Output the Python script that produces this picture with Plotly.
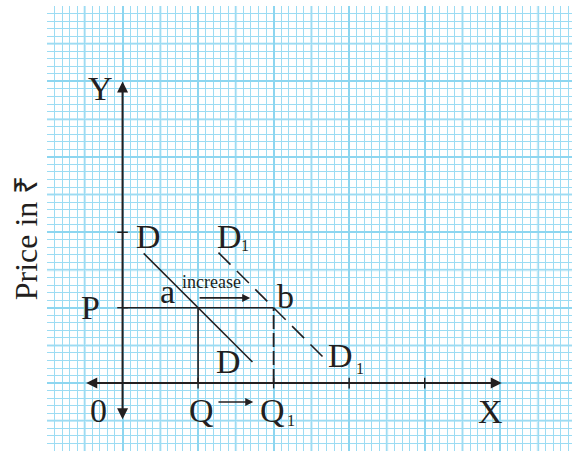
import plotly.graph_objects as go

# demand curves (price-quantity units, one unit = one big grid square)
d_x = [0.28, 1.72]
d_y = [1.72, 0.28]
d1_x = [1.27, 2.72]
d1_y = [1.73, 0.28]

# equilibrium values
price_p = 1
qty_q = 1
qty_q1 = 2

x_ticks = [1, 2, 3, 4]
y_ticks = [1, 2]

INK = "#231f20"
SERIF = "Liberation Serif, Times New Roman, serif"

fig = go.Figure()


def add_line(xs, ys, dash="solid", width=1.6):
    fig.add_trace(go.Scatter(
        x=xs, y=ys, mode="lines", hoverinfo="skip", showlegend=False,
        line=dict(color=INK, width=width, dash=dash)
    ))


# D and D1
add_line(d_x, d_y)
add_line(d1_x, d1_y, dash="17px,9px")

# price line P -> b, verticals at Q (solid) and Q1 (dashed)
add_line([0, qty_q1], [price_p, price_p])
add_line([qty_q, qty_q], [0, price_p])
add_line([qty_q1, qty_q1], [0, price_p], dash="14px,4px", width=1.8)

# small ticks on axes
for t in x_ticks:
    add_line([t, t], [-0.07, 0.07], width=1.4)
for t in y_ticks:
    add_line([-0.07, 0.07], [t, t], width=1.4)

# half-unit grid lines (lighter, wider)
for k in range(-1, 6):
    fig.add_shape(type="line", xref="x", yref="paper", x0=k + 0.5, x1=k + 0.5,
                  y0=0, y1=1, line=dict(color="#c4e9f7", width=2.5), layer="below")
for k in range(-1, 5):
    fig.add_shape(type="line", xref="paper", yref="y", y0=k + 0.5, y1=k + 0.5,
                  x0=0, x1=1, line=dict(color="#c4e9f7", width=2.5), layer="below")

# axes with arrowheads
axis_arrow = dict(xref="x", yref="y", axref="x", ayref="y", text="", showarrow=True,
                  arrowhead=2, arrowsize=1.1, arrowwidth=2, arrowcolor=INK,
                  arrowside="end+start", standoff=0, startstandoff=0, startarrowhead=2,
                  startarrowsize=1.1)
fig.add_annotation(x=5.02, y=0, ax=-0.5, ay=0, **axis_arrow)
fig.add_annotation(x=0, y=4.0, ax=0, ay=-0.5, **axis_arrow)

small_arrow = dict(xref="x", yref="y", axref="x", ayref="y", text="", showarrow=True,
                   arrowhead=2, arrowsize=1, arrowwidth=1.6, arrowcolor=INK, standoff=0)
fig.add_annotation(x=1.69, y=1.13, ax=1.0, ay=1.13, **small_arrow)
fig.add_annotation(x=1.73, y=-0.25, ax=1.25, ay=-0.25, **small_arrow)

labels = [
    ("Y", -0.29, 3.91, 34),
    ("X", 4.87, -0.38, 34),
    ("0", -0.32, -0.36, 34),
    ("Q", 1.04, -0.36, 34),
    ("Q", 1.98, -0.36, 34),
    ("1", 2.23, -0.50, 16),
    ("P", -0.43, 1.0, 34),
    ("D", 0.34, 1.94, 34),
    ("D", 1.42, 1.94, 34),
    ("1", 1.62, 1.82, 16),
    ("a", 0.59, 1.22, 34),
    ("b", 2.16, 1.15, 34),
    ("D", 1.40, 0.29, 34),
    ("D", 2.89, 0.37, 34),
    ("1", 3.14, 0.20, 16),
    ("increase", 1.18, 1.34, 18),
]
for txt, lx, ly, size in labels:
    fig.add_annotation(x=lx, y=ly, xref="x", yref="y", text=txt, showarrow=False,
                       font=dict(family=SERIF, size=size, color=INK))

# y title sits left of the grid, so place it in paper coords
fig.add_annotation(x=-0.04, y=0.478, xref="paper", yref="paper", text="Price in ₹",
                   textangle=-90, showarrow=False, xanchor="center", yanchor="middle",
                   font=dict(family=SERIF, size=32, color=INK))

grid = dict(showgrid=True, gridcolor="#8dd6f0", gridwidth=2, dtick=1, tick0=0,
            zeroline=False, showticklabels=False, ticks="", showline=False,
            minor=dict(showgrid=True, dtick=0.1, tick0=0, gridcolor="#9cdcf3", gridwidth=1))

fig.update_xaxes(range=[-1, 5.95], **grid)
fig.update_yaxes(range=[-0.9, 5.0], **grid)

fig.update_layout(
    width=572, height=456,
    margin=dict(l=47, r=0, t=6, b=5, autoexpand=False),
    plot_bgcolor="white", paper_bgcolor="white",
    showlegend=False,
)

fig.write_html("out.html", config={"displayModeBar": False},
               post_script="document.body.style.margin='0px';")
